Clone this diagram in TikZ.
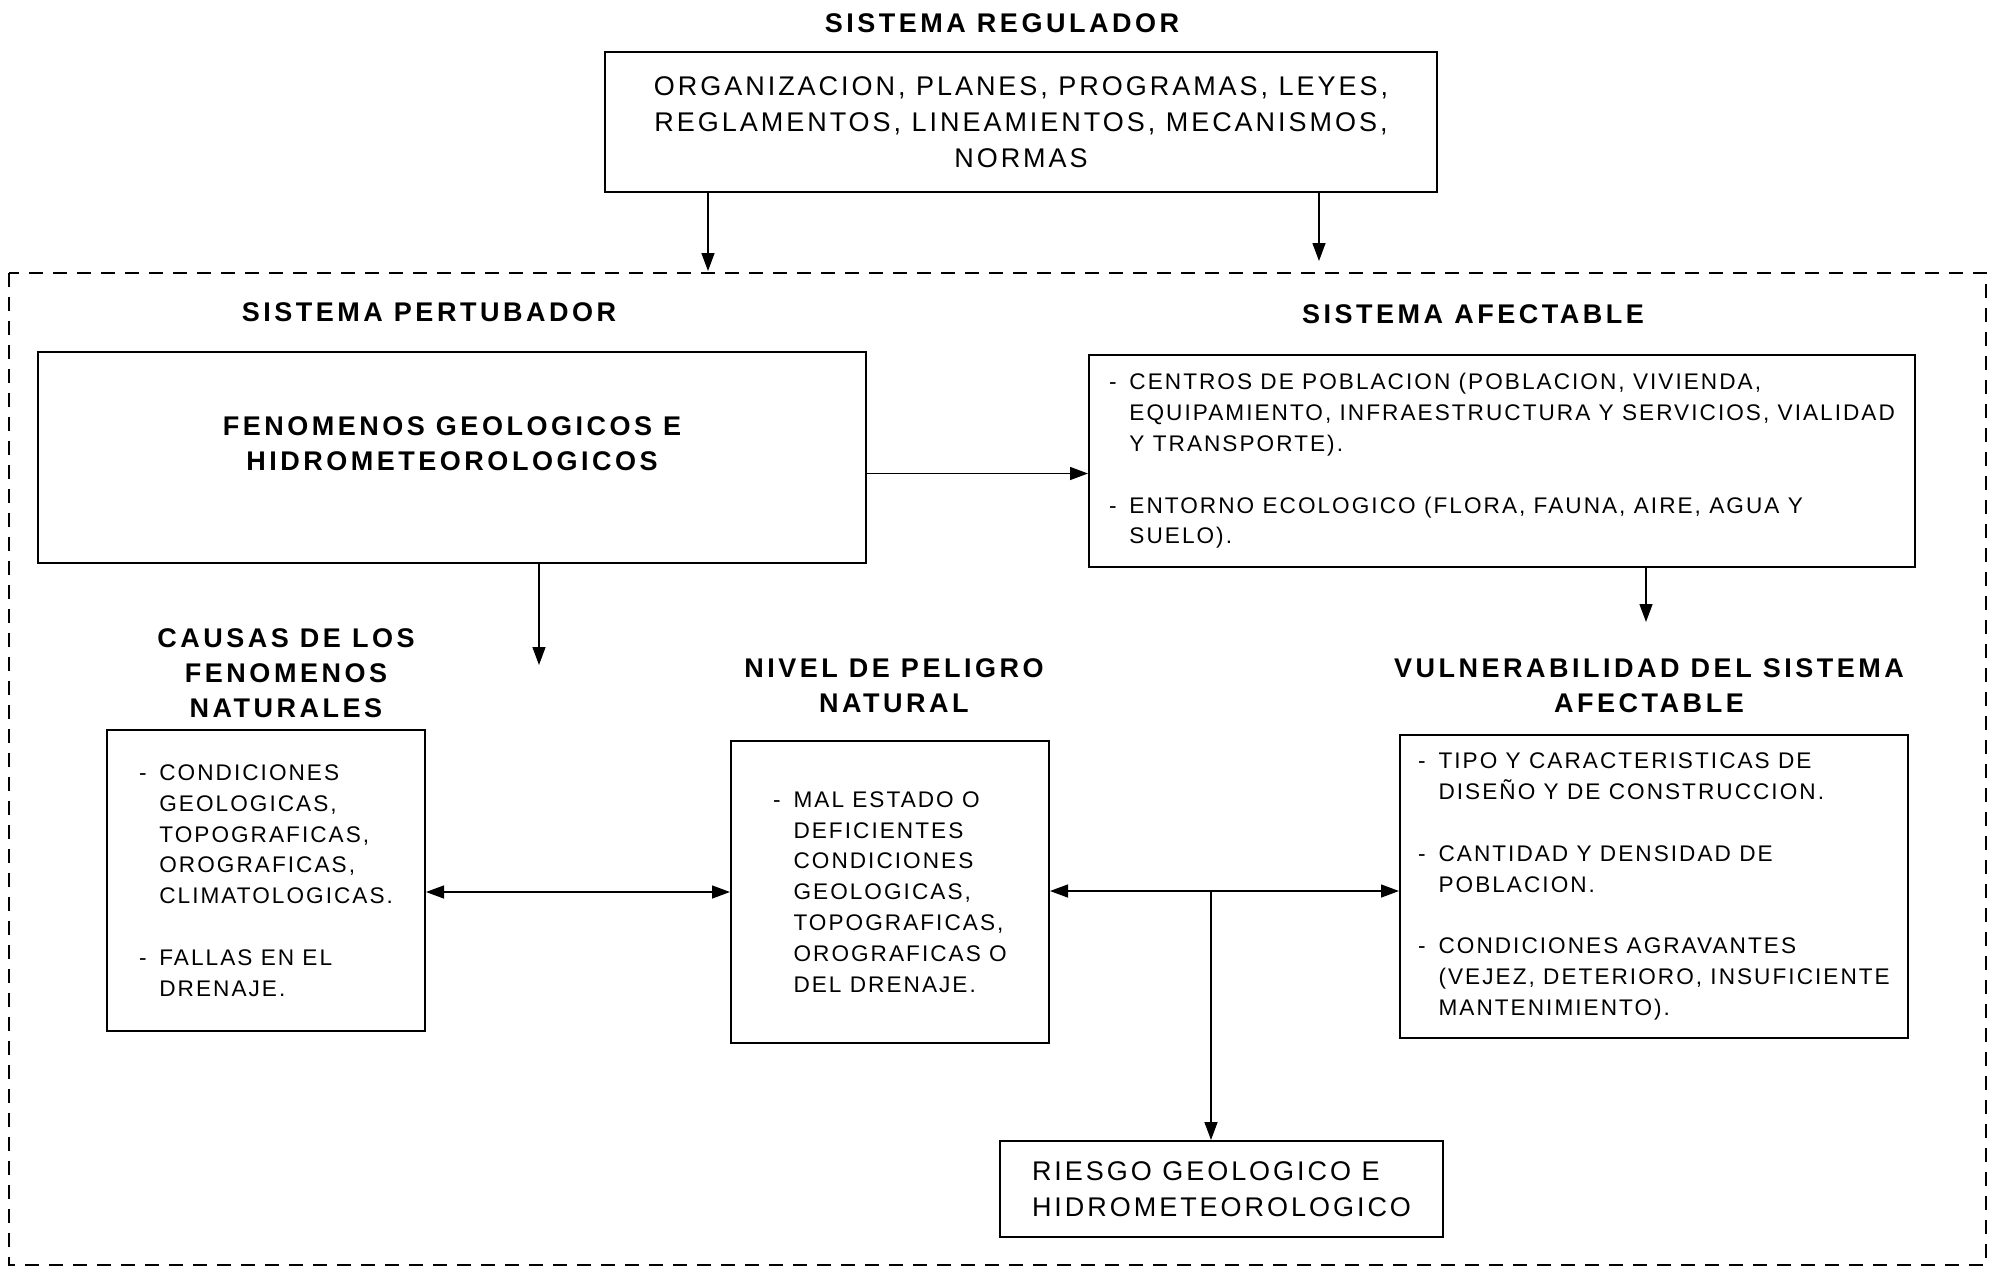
\documentclass[tikz,border=0pt]{standalone}
\usepackage{fontspec}
\setmainfont{Liberation Sans}
\newfontfamily\letra[LetterSpace=9]{Liberation Sans}
\newfontfamily\letragrande[LetterSpace=11]{Liberation Sans}
\newfontfamily\letratitulo[LetterSpace=13]{Liberation Sans}
\usetikzlibrary{arrows.meta}
\newcommand{\guion}{\makebox[0.9em][l]{-}}
\newcommand{\sigue}{\hspace*{0.9em}}

\begin{document}
\begin{tikzpicture}[
        x=0.5pt, y=-0.5pt,
        line width=0.7pt,
        >={Triangle[length=9pt,width=6.5pt]}
    ]
    \tikzset{
        caja/.style = {rectangle, draw=black, line width=1pt},
        titulo/.style = {align=center, font=\letratitulo\bfseries\fontsize{13.5}{17.5}\selectfont},
        chico/.style = {align=left, font=\letra\fontsize{11.3}{15.4}\selectfont},
        grande/.style = {font=\letragrande\fontsize{13.5}{18}\selectfont},
        flecha/.style = {->},
    }
    \useasboundingbox (0,0) rectangle (1994,1271);
    \draw[line width=0.8pt, dash pattern=on 7pt off 5pt] (9,273) rectangle (1986,1265);

    \node[titulo] (tReg) at (1002,23) {SISTEMA REGULADOR};
    \node[caja, grande, align=center, minimum width=416pt, minimum height=70pt] (reg) at (1021,122)
        {ORGANIZACION, PLANES, PROGRAMAS, LEYES,\\ REGLAMENTOS, LINEAMIENTOS, MECANISMOS,\\ NORMAS};

    \node[titulo] (tPert) at (429,312) {SISTEMA PERTUBADOR};
    \node[titulo] (tAfec) at (1473,314) {SISTEMA AFECTABLE};
    \node[caja, minimum width=414pt, minimum height=105.5pt,
        label={[titulo, yshift=7pt]center:{FENOMENOS GEOLOGICOS E\\ HIDROMETEOROLOGICOS}}] (fen) at (452,457.5) {};
    \node[caja, chico, minimum width=413pt, minimum height=106pt] (afec) at (1502,461)
        {\guion CENTROS DE POBLACION (POBLACION, VIVIENDA,\\ \sigue EQUIPAMIENTO, INFRAESTRUCTURA Y SERVICIOS, VIALIDAD\\ \sigue Y TRANSPORTE).\\[15.4pt] \guion ENTORNO ECOLOGICO (FLORA, FAUNA, AIRE, AGUA Y\\ \sigue SUELO).};

    \node[titulo] (tCau) at (286,673) {CAUSAS DE LOS\\ FENOMENOS\\ NATURALES};
    \node[titulo] (tNiv) at (894,686) {NIVEL DE PELIGRO\\ NATURAL};
    \node[titulo] (tVul) at (1649,686) {VULNERABILIDAD DEL SISTEMA\\ AFECTABLE};

    \node[caja, chico, minimum width=159pt, minimum height=150.5pt] (cau) at (266,880.5)
        {\guion CONDICIONES\\ \sigue GEOLOGICAS,\\ \sigue TOPOGRAFICAS,\\ \sigue OROGRAFICAS,\\ \sigue CLIMATOLOGICAS.\\[15.4pt] \guion FALLAS EN EL\\ \sigue DRENAJE.};
    \node[caja, chico, minimum width=159pt, minimum height=151pt] (niv) at (890,892)
        {\guion MAL ESTADO O\\ \sigue DEFICIENTES\\ \sigue CONDICIONES\\ \sigue GEOLOGICAS,\\ \sigue TOPOGRAFICAS,\\ \sigue OROGRAFICAS O\\ \sigue DEL DRENAJE.};
    \node[caja, chico, minimum width=254pt, minimum height=151.5pt] (vul) at (1654,886.5)
        {\guion TIPO Y CARACTERISTICAS DE\\ \sigue DISEÑO Y DE CONSTRUCCION.\\[15.4pt] \guion CANTIDAD Y DENSIDAD DE\\ \sigue POBLACION.\\[15.4pt] \guion CONDICIONES AGRAVANTES\\ \sigue (VEJEZ, DETERIORO, INSUFICIENTE\\ \sigue MANTENIMIENTO).};
    \node[caja, grande, align=left, minimum width=221.5pt, minimum height=48pt] (riesgo) at (1221.5,1189)
        {RIESGO GEOLOGICO E\\ HIDROMETEOROLOGICO};

    % conectores
    \coordinate (r1) at (708,271);
    \coordinate (r2) at (1319,261);
    \coordinate (f1) at (539,665);
    \coordinate (a1) at (1646,622);
    \coordinate (junta) at (1211,891);
    \draw[flecha] (r1 |- reg.south) -- (r1);
    \draw[flecha] (r2 |- reg.south) -- (r2);
    \draw[flecha] ([yshift=-8pt]fen.east) -- ([yshift=-8pt]fen.east -| afec.west);
    \draw[flecha] (f1 |- fen.south) -- (f1);
    \draw[flecha] (a1 |- afec.south) -- (a1);
    \draw[<->] (cau.east |- niv.west) -- (niv.west);
    \draw[flecha] (junta) -- (junta -| niv.east);
    \draw[flecha] (junta) -- (junta -| vul.west);
    \draw[flecha] (junta) -- (junta |- riesgo.north);
\end{tikzpicture}
\end{document}
